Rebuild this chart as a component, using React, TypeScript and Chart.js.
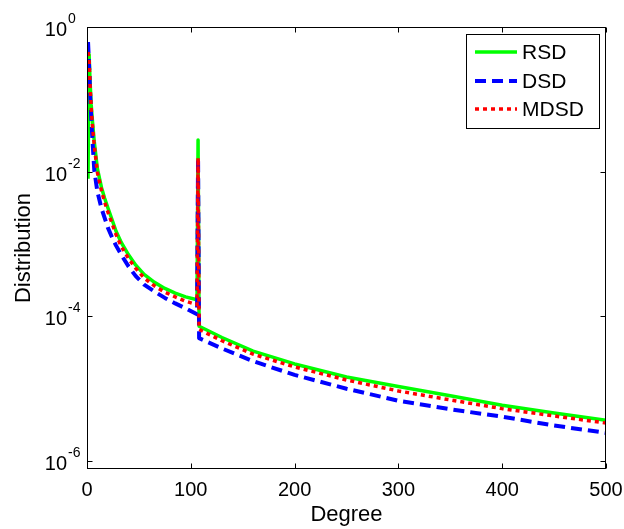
import React, { useEffect, useRef } from "react";
import { Chart, registerables } from "chart.js";

Chart.register(...registerables);

// Degree values (x) shared by all series
const degrees = [1, 2, 3, 4, 5, 7, 10, 14, 17, 20, 24, 28, 33, 40, 47, 55, 65, 75, 85, 95, 106, 107, 108, 130, 160, 200, 250, 300, 350, 400, 450, 500];

// Distribution values
const rsd = [0.008, 0.42, 0.17, 0.085, 0.055, 0.026, 0.011, 0.006, 0.0043, 0.0032, 0.0022, 0.0015, 1.05e-3, 7.1e-4, 5.1e-4, 3.8e-4, 2.95e-4, 2.43e-4, 2.1e-4, 1.86e-4, 1.7e-4, 0.0275, 7.3e-5, 5.1e-5, 3.3e-5, 2.2e-5, 1.45e-5, 1.07e-5, 8.0e-6, 5.9e-6, 4.6e-6, 3.65e-6];
const dsd = [0.62, 0.3, 0.12, 0.058, 0.032, 0.0105, 0.0053, 0.0031, 0.0023, 0.0017, 1.25e-3, 9.5e-4, 7.1e-4, 4.9e-4, 3.6e-4, 2.75e-4, 2.2e-4, 1.8e-4, 1.51e-4, 1.29e-4, 1.07e-4, 0.0155, 5.0e-5, 3.6e-5, 2.4e-5, 1.55e-5, 1.0e-5, 6.8e-6, 5.2e-6, 4.1e-6, 3.1e-6, 2.45e-6];
const mdsd = [0.45, 0.36, 0.15, 0.078, 0.048, 0.023, 0.0098, 0.0054, 0.0038, 0.0028, 1.95e-3, 1.35e-3, 9.3e-4, 6.3e-4, 4.6e-4, 3.4e-4, 2.63e-4, 2.16e-4, 1.86e-4, 1.62e-4, 1.45e-4, 0.0155, 6.6e-5, 4.6e-5, 3.0e-5, 2.0e-5, 1.32e-5, 9.3e-6, 7.0e-6, 5.3e-6, 4.2e-6, 3.35e-6];

const seriesNames = ["RSD", "DSD", "MDSD"];
const seriesColors = ["#00ff00", "#0000ff", "#ff0000"];
const seriesDashes: number[][] = [[], [11, 6], [4, 4]];
const seriesWidths = [3.5, 4, 3.5];

const xTicks = [0, 100, 200, 300, 400, 500];
const yTickExponents = [0, -2, -4, -6];
const xTitle = "Degree";
const yTitle = "Distribution";

const FONT = "'Liberation Sans', Arial, Helvetica, sans-serif";

const framePlugin = {
  id: "matlabFrame",
  afterDraw(chart: any) {
    const { ctx, chartArea: a, scales } = chart;
    const xs = scales.x;
    const ys = scales.y;
    ctx.save();
    ctx.strokeStyle = "#000";
    ctx.lineWidth = 1;
    const L = Math.round(a.left) + 0.5;
    const R = Math.round(a.right) - 0.5;
    const T = Math.round(a.top) + 0.5;
    const B = Math.round(a.bottom) - 0.5;
    ctx.strokeRect(L, T, R - L, B - T);

    // ticks
    ctx.beginPath();
    for (const v of xTicks) {
      const px = Math.round(xs.getPixelForValue(v)) + 0.5;
      ctx.moveTo(px, B);
      ctx.lineTo(px, B - 5);
      ctx.moveTo(px, T);
      ctx.lineTo(px, T + 5);
    }
    for (const e of yTickExponents) {
      const py = Math.round(ys.getPixelForValue(Math.pow(10, e))) + 0.5;
      ctx.moveTo(L, py);
      ctx.lineTo(L + 5, py);
      ctx.moveTo(R, py);
      ctx.lineTo(R - 5, py);
    }
    ctx.stroke();

    // x tick labels
    ctx.fillStyle = "#000";
    ctx.font = `20px ${FONT}`;
    ctx.textAlign = "center";
    ctx.textBaseline = "alphabetic";
    for (const v of xTicks) {
      const px = xs.getPixelForValue(v);
      ctx.fillText(String(v), px, a.bottom + 27);
    }

    // y tick labels 10^e
    for (const e of yTickExponents) {
      const py = ys.getPixelForValue(Math.pow(10, e));
      ctx.font = `20px ${FONT}`;
      ctx.textAlign = "right";
      ctx.fillText("10", a.left - 20, py + 9);
      ctx.font = `14px ${FONT}`;
      ctx.textAlign = "left";
      ctx.fillText(e === 0 ? "0" : "-" + String(-e), a.left - 19, py - 4);
    }

    // axis titles
    ctx.font = `22px ${FONT}`;
    ctx.textAlign = "center";
    ctx.fillText(xTitle, (a.left + a.right) / 2, a.bottom + 52);
    ctx.save();
    ctx.translate(30, (a.top + a.bottom) / 2);
    ctx.rotate(-Math.PI / 2);
    ctx.fillText(yTitle, 0, 0);
    ctx.restore();

    // legend
    const lx = 466, ly = 34, lw = 133, lh = 94;
    ctx.fillStyle = "#fff";
    ctx.fillRect(lx, ly, lw, lh);
    ctx.strokeStyle = "#000";
    ctx.lineWidth = 1;
    ctx.strokeRect(lx + 0.5, ly + 0.5, lw, lh);
    const rows = [52, 81, 109];
    ctx.font = `21px ${FONT}`;
    ctx.textAlign = "left";
    ctx.textBaseline = "middle";
    seriesNames.forEach((name, i) => {
      ctx.save();
      ctx.strokeStyle = seriesColors[i];
      ctx.lineWidth = seriesWidths[i];
      ctx.setLineDash(seriesDashes[i]);
      ctx.beginPath();
      ctx.moveTo(475, rows[i]);
      ctx.lineTo(517, rows[i]);
      ctx.stroke();
      ctx.restore();
      ctx.fillStyle = "#000";
      ctx.fillText(name, 522, rows[i] + 1);
    });
    ctx.restore();
  },
};

export default function App() {
  const canvasRef = useRef<HTMLCanvasElement | null>(null);

  useEffect(() => {
    const canvas = canvasRef.current;
    if (!canvas) return;
    const seriesData = [rsd, dsd, mdsd];
    const orders = [3, 2, 1];
    const chart = new Chart(canvas, {
      type: "line",
      data: {
        datasets: seriesNames.map((name, i) => ({
          label: name,
          data: degrees.map((d, j) => ({ x: d, y: seriesData[i][j] })),
          borderColor: seriesColors[i],
          backgroundColor: seriesColors[i],
          borderWidth: seriesWidths[i],
          borderDash: seriesDashes[i],
          borderCapStyle: "butt" as const,
          borderJoinStyle: "round" as const,
          pointRadius: 0,
          fill: false,
          tension: 0,
          order: orders[i],
        })),
      },
      options: {
        responsive: false,
        animation: false,
        devicePixelRatio: 1,
        layout: { padding: { left: 87, top: 27, right: 18, bottom: 60 } },
        plugins: {
          legend: { display: false },
          tooltip: { enabled: false },
          title: { display: false },
        },
        scales: {
          x: { type: "linear", min: 0, max: 500, display: false },
          y: { type: "logarithmic", min: Math.pow(10, -6.11), max: 1, display: false },
        },
      },
      plugins: [framePlugin],
    });
    return () => chart.destroy();
  }, []);

  return (
    <div style={{ position: "absolute", left: 0, top: 0, width: 624, height: 529, background: "#fff" }}>
      <canvas ref={canvasRef} width={624} height={529} />
    </div>
  );
}
